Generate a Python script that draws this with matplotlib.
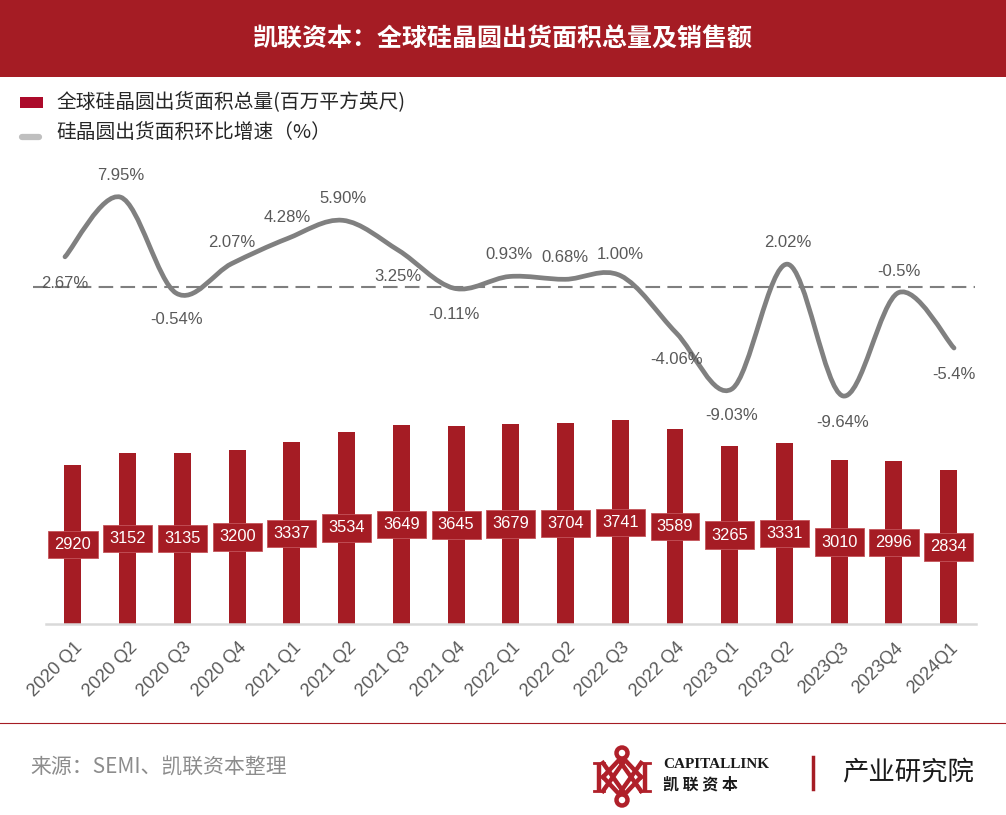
import numpy as np
import matplotlib
matplotlib.use('Agg')
import matplotlib.pyplot as plt
from matplotlib.path import Path
from matplotlib.patches import PathPatch, Rectangle, Circle
import matplotlib.transforms as mtransforms

# ---------------- data ----------------
quarters = ['2020 Q1', '2020 Q2', '2020 Q3', '2020 Q4', '2021 Q1', '2021 Q2',
            '2021 Q3', '2021 Q4', '2022 Q1', '2022 Q2', '2022 Q3', '2022 Q4',
            '2023 Q1', '2023 Q2', '2023Q3', '2023Q4', '2024Q1']
area = [2920, 3152, 3135, 3200, 3337, 3534, 3649, 3645, 3679, 3704, 3741,
        3589, 3265, 3331, 3010, 2996, 2834]
growth = [2.67, 7.95, -0.54, 2.07, 4.28, 5.90, 3.25, -0.11, 0.93, 0.68, 1.00,
          -4.06, -9.03, 2.02, -9.64, -0.5, -5.4]
growth_labels = ['2.67%', '7.95%', '-0.54%', '2.07%', '4.28%', '5.90%', '3.25%',
                 '-0.11%', '0.93%', '0.68%', '1.00%', '-4.06%', '-9.03%',
                 '2.02%', '-9.64%', '-0.5%', '-5.4%']
label_side = ['below', 'above', 'below', 'above', 'above', 'above', 'below',
              'below', 'above', 'above', 'above', 'below', 'below', 'above',
              'below', 'above', 'below']

title = '凯联资本：全球硅晶圆出货面积总量及销售额'
legend_bar = '全球硅晶圆出货面积总量(百万平方英尺)'
legend_line = '硅晶圆出货面积环比增速（%）'
source = '来源：SEMI、凯联资本整理'

# ---------------- style ----------------
W, H = 1006, 815
RED = '#A51C24'
CJK = ['Noto Sans CJK SC', 'DejaVu Sans']
NUM = ['Liberation Sans', 'DejaVu Sans']
plt.rcParams['font.family'] = CJK

fig = plt.figure(figsize=(W / 100, H / 100), dpi=100)
fig.patch.set_facecolor('white')

# background axes in pixel coordinates (y downward)
bg = fig.add_axes([0, 0, 1, 1])
bg.set_xlim(0, W)
bg.set_ylim(H, 0)
bg.axis('off')
bg.set_zorder(0)

bg.add_patch(Rectangle((0, 0), W, 77, color=RED, lw=0))
bg.text(503, 40, title, color='white', fontsize=18, fontweight='bold',
        ha='center', va='center', family=CJK)

# legend
bg.add_patch(Rectangle((20, 97), 23, 11, color='#AC0A2A', lw=0))
bg.text(56, 103, legend_bar, fontsize=14.2, color='#262626', va='center', family=CJK)
bg.plot([22, 39], [137, 137], color='#BFBFBF', lw=4.5, solid_capstyle='round')
bg.text(56, 133, legend_line, fontsize=14.2, color='#262626', va='center', family=CJK)

# footer
bg.plot([0, W], [723, 723], color=RED, lw=0.8)
bg.text(30, 768, source, fontsize=15, color='#8C8C8C', va='center', family=CJK)

# logo (approximation)
lc = '#B0202A'
lw_logo = 3.2
bg.plot([599, 599], [763, 791], color=lc, lw=lw_logo, solid_capstyle='butt')
bg.plot([594, 604], [763, 763], color=lc, lw=2)
bg.plot([594, 604], [791, 791], color=lc, lw=2)
bg.plot([645, 645], [763, 791], color=lc, lw=lw_logo, solid_capstyle='butt')
bg.plot([640, 650], [763, 763], color=lc, lw=2)
bg.plot([640, 650], [791, 791], color=lc, lw=2)
bg.plot([603, 619, 641], [777, 760, 791], color=lc, lw=lw_logo)
bg.plot([641, 625, 603], [777, 760, 791], color=lc, lw=lw_logo)
bg.plot([603, 619, 641], [777, 794, 763], color=lc, lw=lw_logo)
bg.plot([641, 625, 603], [777, 794, 763], color=lc, lw=lw_logo)
bg.add_patch(Circle((622, 753), 5.5, fill=False, ec=lc, lw=lw_logo))
bg.add_patch(Circle((622, 800), 5.5, fill=False, ec=lc, lw=lw_logo))
bg.text(663, 764, 'CAPITALLINK', fontsize=11, fontweight='bold', color='#1A1A1A',
        va='center', ha='left', family=['Liberation Serif', 'DejaVu Serif'])
bg.text(663, 784, '凯 联 资 本', fontsize=11.5, fontweight='bold', color='#1A1A1A',
        va='center', ha='left', family=CJK)
bg.plot([813, 813], [757, 789], color=RED, lw=2.5)
bg.text(842, 773, '产业研究院', fontsize=19, color='#1A1A1A', va='center',
        ha='left', family=CJK)

n = len(area)
x = np.arange(n)

# ---------------- bar axes ----------------
bar_left, bar_right, base_y = 45.6, 976.0, 624.0
ymax_bar = 4000
px_per_unit = 0.0544
ax_bar = fig.add_axes([bar_left / W, (H - base_y) / H, (bar_right - bar_left) / W,
                       ymax_bar * px_per_unit / H])
ax_bar.set_zorder(1)
ax_bar.patch.set_alpha(0)
ax_bar.bar(x, area, width=0.31, color=RED, lw=0)
ax_bar.set_xlim(-0.5, n - 0.5)
ax_bar.set_ylim(0, ymax_bar)
for s in ['top', 'left', 'right']:
    ax_bar.spines[s].set_visible(False)
ax_bar.spines['bottom'].set_color('#D9D9D9')
ax_bar.spines['bottom'].set_linewidth(1.8)
ax_bar.set_yticks([])
ax_bar.set_xticks(x)
ax_bar.set_xticklabels(quarters, rotation=45, ha='right', va='top',
                       rotation_mode='anchor', fontsize=13, color='#595959',
                       family=NUM)
ax_bar.tick_params(axis='x', length=0, pad=11)
offset = mtransforms.ScaledTranslation(1 / 100, 0, fig.dpi_scale_trans)
for lab in ax_bar.get_xticklabels():
    lab.set_transform(lab.get_transform() + offset)

for i, v in enumerate(area):
    ax_bar.text(i, v / 2, str(v), ha='center', va='center', color='white',
                fontsize=11.8, family=NUM,
                bbox=dict(boxstyle='square,pad=0.38', fc=RED, ec='#C4545A', lw=0.6))

# ---------------- line axes ----------------
line_left, line_right = 37.2, 981.8
zero_y, px_per_pct = 287.0, 11.3
ylo, yhi = -12, 10
ax_line = fig.add_axes([line_left / W, (H - (zero_y - ylo * px_per_pct)) / H,
                        (line_right - line_left) / W, (yhi - ylo) * px_per_pct / H])
ax_line.set_zorder(2)
ax_line.patch.set_alpha(0)
ax_line.axis('off')
ax_line.set_xlim(-0.5, n - 0.5)
ax_line.set_ylim(ylo, yhi)

# zero dashed line
ax_line.plot([-0.58, 16.38], [0, 0], color='#7F7F7F', lw=1.5, dashes=(7, 3.5),
             clip_on=False, zorder=1)

# smoothed curve through the data points (Catmull-Rom as cubic Bezier)
P = np.column_stack([x, growth]).astype(float)
verts = [tuple(P[0])]
codes = [Path.MOVETO]
for i in range(n - 1):
    p0 = P[i - 1] if i > 0 else P[i]
    p1, p2 = P[i], P[i + 1]
    p3 = P[i + 2] if i + 2 < n else P[i + 1]
    c1 = p1 + (p2 - p0) / 6.0
    c2 = p2 - (p3 - p1) / 6.0
    verts += [tuple(c1), tuple(c2), tuple(p2)]
    codes += [Path.CURVE4] * 3
ax_line.add_patch(PathPatch(Path(verts, codes), fill=False, ec='#808080', lw=3.4,
                            capstyle='round', joinstyle='round', zorder=2,
                            clip_on=False))

for i, (v, lbl, side) in enumerate(zip(growth, growth_labels, label_side)):
    dy = 15.5 if side == 'above' else -19
    ax_line.annotate(lbl, (i, v), xytext=(0, dy), textcoords='offset points',
                     ha='center', va='center', fontsize=12, color='#595959',
                     family=NUM, zorder=3)

fig.savefig('out.png', dpi=100, facecolor='white')
